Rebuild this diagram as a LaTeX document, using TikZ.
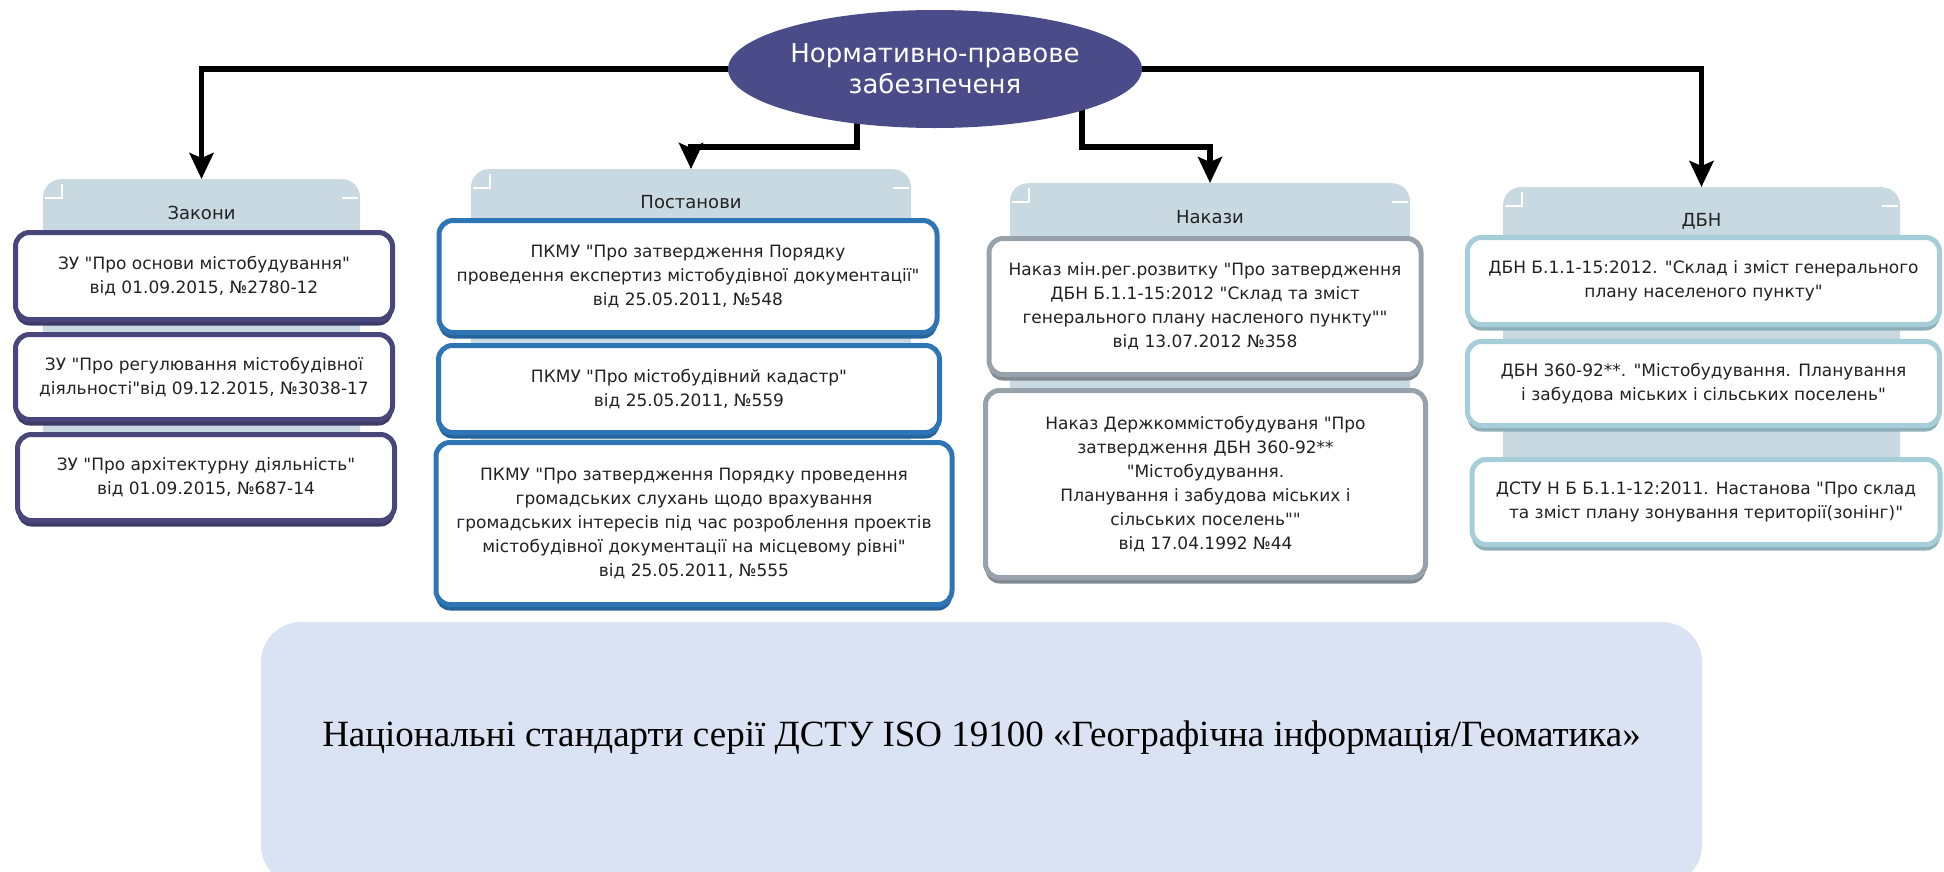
\documentclass[tikz,border=0pt]{standalone}
\usepackage{fontspec}
\setmainfont{Liberation Serif}
\newfontfamily\boxfont{DejaVu Sans}
\usetikzlibrary{arrows.meta, positioning, shapes.geometric, backgrounds, shadows}

\definecolor{rootblue}{RGB}{74,76,138}
\definecolor{panelgray}{RGB}{200,217,225}
\definecolor{zakline}{RGB}{72,70,122}
\definecolor{postline}{RGB}{46,117,182}
\definecolor{nakline}{RGB}{152,162,172}
\definecolor{dbnline}{RGB}{166,206,217}
\definecolor{stdfill}{RGB}{218,227,243}
\definecolor{boxtext}{RGB}{34,34,34}

\tikzset{
  conn/.style={line width=5.5pt, -{Stealth[length=26pt,width=24pt,inset=5pt]}},
  root/.style={ellipse, fill=rootblue, text=white, minimum width=414pt, minimum height=118pt,
    inner sep=0pt, align=center, font=\boxfont\fontsize{26}{31}\selectfont},
  panel/.style={fill=panelgray, rounded corners=18pt, anchor=north, inner sep=0pt},
  head/.style={font=\boxfont\fontsize{18}{22}\selectfont, text=boxtext, inner sep=0pt},
  doc/.style={draw=#1, line width=5pt, fill=white, rounded corners=14pt, align=center,
    inner sep=0pt, text=boxtext, font=\boxfont\fontsize{17}{24}\selectfont,
    drop shadow={shadow xshift=0pt, shadow yshift=-6pt, fill=#1!85!black, opacity=1}},
  tick/.style={white, line width=1.5pt},
  stdbox/.style={fill=stdfill, rounded corners=40pt, inner sep=0pt},
  stdtext/.style={font=\fontsize{37}{44}\selectfont, inner sep=0pt}
}

\begin{document}
\begin{tikzpicture}[x=1pt, y=-1pt]
  \useasboundingbox (0,0) rectangle (1944,871);
  \clip (0,0) rectangle (1944,871);

  \node[root] (root) at (935,69) {Нормативно-правове\\забезпеченя};

  \node[panel, minimum width=317pt, minimum height=301pt] (zakP) at (201.5,179) {};
  \node[panel, minimum width=440pt, minimum height=391pt] (postP) at (691,169) {};
  \node[panel, minimum width=400pt, minimum height=337pt] (nakP) at (1210,183) {};
  \node[panel, minimum width=397pt, minimum height=323pt] (dbnP) at (1701.5,187) {};
  \foreach \p in {zakP,postP,nakP,dbnP} {
    \draw[tick] ([xshift=2pt,yshift=-19pt]\p.north west) -| ([xshift=19pt,yshift=-5pt]\p.north west);
    \draw[tick] ([xshift=-18pt,yshift=-19pt]\p.north east) -- ([xshift=-2pt,yshift=-19pt]\p.north east);
  }
  \node[head, below=27pt of zakP.north] (zakH) {Закони};
  \node[head, below=26pt of postP.north] (postH) {Постанови};
  \node[head, below=27pt of nakP.north] (nakH) {Накази};
  \node[head, below=26pt of dbnP.north] (dbnH) {ДБН};

  \node[doc=zakline, minimum width=377pt, minimum height=87pt] (zak1) at (204,276)
    {ЗУ "Про основи містобудування"\\від 01.09.2015, №2780-12};
  \node[doc=zakline, minimum width=377pt, minimum height=85pt] (zak2) at (204,377)
    {ЗУ "Про регулювання містобудівної\\діяльності"від 09.12.2015, №3038-17};
  \node[doc=zakline, minimum width=377pt, minimum height=86pt] (zak3) at (206,477.5)
    {ЗУ "Про архітектурну діяльність"\\від 01.09.2015, №687-14};

  \node[doc=postline, minimum width=498pt, minimum height=112pt] (post1) at (688,276.5)
    {ПКМУ "Про затвердження Порядку\\проведення експертиз містобудівної документації"\\від 25.05.2011, №548};
  \node[doc=postline, minimum width=501pt, minimum height=87pt] (post2) at (689,389)
    {ПКМУ "Про містобудівний кадастр"\\від 25.05.2011, №559};
  \node[doc=postline, minimum width=516pt, minimum height=162pt] (post3) at (694,523.5)
    {ПКМУ "Про затвердження Порядку проведення\\громадських слухань щодо врахування\\громадських інтересів під час розроблення проектів\\містобудівної документації на місцевому рівні"\\від 25.05.2011, №555};

  \node[doc=nakline, minimum width=432pt, minimum height=136pt] (nak1) at (1205,306.5)
    {Наказ мін.рег.розвитку "Про затвердження\\ДБН Б.1.1-15:2012 "Склад та зміст\\генерального плану насленого пункту""\\від 13.07.2012 №358};
  \node[doc=nakline, minimum width=440pt, minimum height=187pt] (nak2) at (1205.5,484)
    {Наказ Держкоммістобудуваня "Про\\затвердження ДБН 360-92**\\"Містобудування.\\Планування і забудова міських і\\сільських поселень""\\від 17.04.1992 №44};

  \node[doc=dbnline, minimum width=472pt, minimum height=87pt] (dbn1) at (1703.5,281)
    {ДБН Б.1.1-15:2012. "Склад і зміст генерального\\плану населеного пункту"};
  \node[doc=dbnline, minimum width=472pt, minimum height=84pt] (dbn2) at (1703.5,383.5)
    {ДБН 360-92**. "Містобудування. Планування\\і забудова міських і сільських поселень"};
  \node[doc=dbnline, minimum width=468pt, minimum height=85pt] (dbn3) at (1706,502)
    {ДСТУ Н Б Б.1.1-12:2011. Настанова "Про склад\\та зміст плану зонування території(зонінг)"};

  \node[stdbox, minimum width=1441pt, minimum height=263pt] (stdB) at (981.5,753.5) {};
  \node[stdtext] (stdT) at ([yshift=-116pt]stdB.north)
    {Національні стандарти серії ДСТУ ISO 19100 «Географічна інформація/Геоматика»};

  \begin{scope}[on background layer]
    \draw[conn] (root.west) -| (zakP.north);
    \draw[conn] (root.east) -| (dbnP.north);
    \draw[conn] ([xshift=-78pt]root.center) -- ++(0,78) -| (postP.north);
    \draw[conn] ([xshift=147pt]root.center) -- ++(0,78) -| (nakP.north);
  \end{scope}
\end{tikzpicture}
\end{document}
